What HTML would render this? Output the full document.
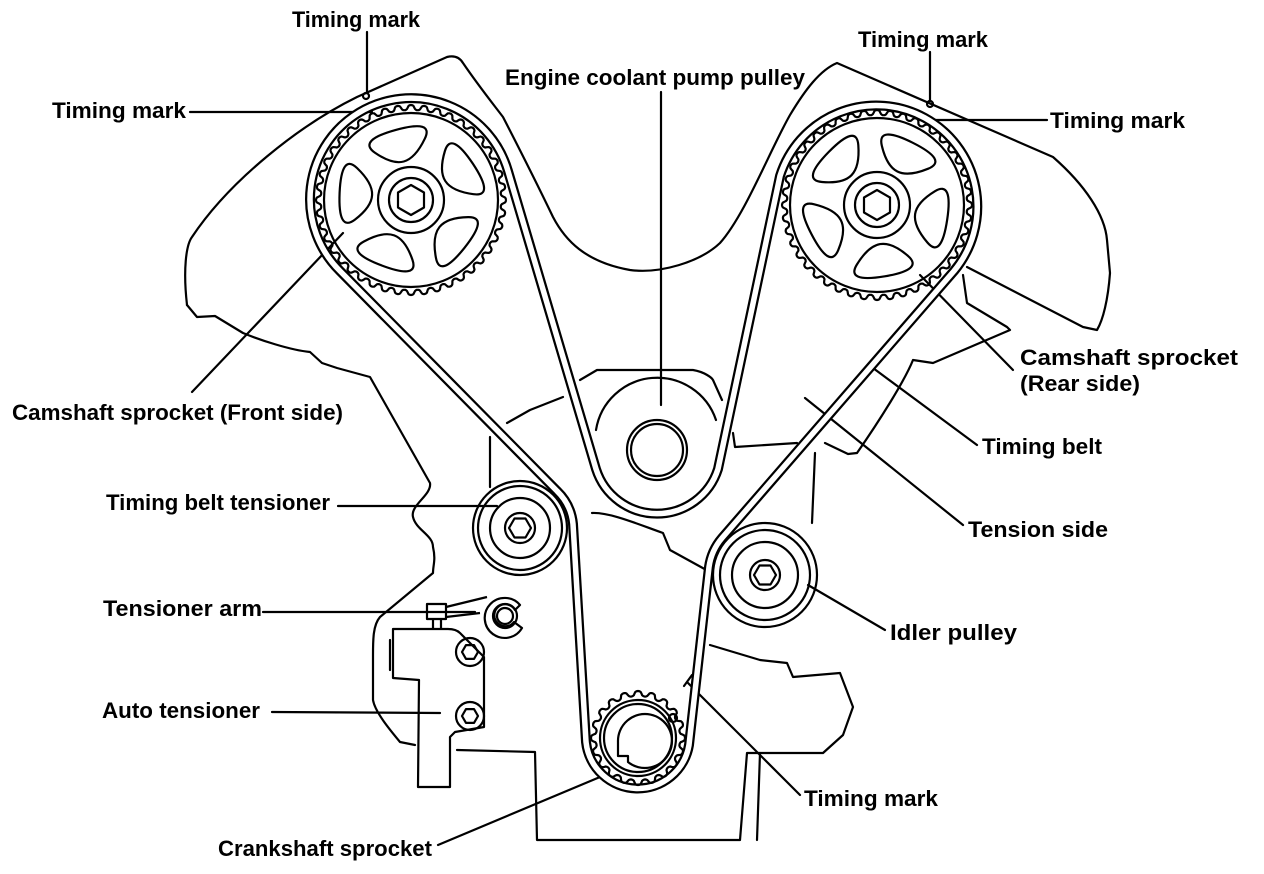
<!DOCTYPE html>
<html><head><meta charset="utf-8"><style>
html,body{margin:0;padding:0;background:#fff;width:1264px;height:874px;overflow:hidden}
svg{display:block}
text{font-family:"Liberation Sans",Arial,sans-serif;font-size:22px;fill:#000;font-weight:bold;letter-spacing:0}
</style></head><body>
<svg id="s" width="1264" height="874" viewBox="0 0 1264 874" xmlns="http://www.w3.org/2000/svg">
<g id="g" fill="none" stroke="#000" stroke-width="2.2" stroke-linejoin="round" stroke-linecap="round">
<path d="M187,305 C183,270 186,245 192,237 C230,180 300,125 357,97 L447,57 C455,55 460,58 463,63 C478,85 490,100 503,117 C520,150 540,190 553,217 C565,240 585,262 630,270 C660,274 700,262 720,243 C745,215 770,150 790,115 C805,90 820,70 837,63 L1053,157 C1085,185 1105,215 1107,240 L1110,273 C1108,300 1103,320 1097,330 L1083,327 L967,267"/>
<path d="M187,305 L197,317 L215,316 L243,333 C260,340 290,350 310,352 L322,363 L337,368 L370,377 L430,483 C432,495 410,505 413,517 C416,530 433,535 433,547 C436,560 433,565 433,573 L380,617 C373,625 373,640 373,655 L373,700 C375,712 390,730 400,742 L415,745"/>
<path d="M963,275 L967,303 L1007,327 L1010,330 L933,363 L913,360 C905,380 880,420 857,453 L848,454 L825,443"/>
<path d="M733,433 L735,447 L797,443"/>
<path d="M815,453 L812,523"/>
<path d="M490,437 L490,487"/>
<path d="M507,423 L530,410 L563,397"/>
<path d="M580,380 L597,370 L693,370 C705,372 712,378 713,380 L722,400"/>
<path d="M592,513 C610,512 640,525 663,533 L670,550 L710,572"/>
<path d="M710,645 L760,660 L787,663 L793,677 L840,673 L853,707 L843,735 L823,753 L747,753 L740,840 L537,840 L535,752 L457,750"/>
<path d="M760,753 L757,840"/>
<path d="M393,629 L448,629 C455,629 458,631 460,633 L484,657 L484,727 L455,732 L450,737 L450,787 L418,787 L419,680 L393,678 Z"/>
<path d="M390,640 L390,670"/>
<path d="M596,430 A62,62 0 0 1 716,420"/>
<path d="M367,32 L367,93"/><circle cx="366" cy="96" r="3"/>
<path d="M190,112 L372,112"/>
<path d="M661,92 L661,405"/>
<path d="M930,52 L930,100"/><circle cx="930" cy="104" r="3"/>
<path d="M923,120 L1047,120"/>
<path d="M920,275 L1013,370"/>
<path d="M873,368 L977,445"/>
<path d="M805,398 L963,525"/>
<path d="M808,585 L885,630"/>
<path d="M688,683 L800,795"/>
<path d="M684,686 L692,675"/>
<path d="M438,845 L600,777"/>
<path d="M272,712 L440,713"/>
<path d="M263,612 L475,612"/>
<path d="M338,506 L497,506"/>
<path d="M192,392 L343,233"/>
</g>
<g id="dyn" fill="none" stroke="#000" stroke-width="2.2" stroke-linejoin="round"></g>
<g>
<text x="292" y="27" textLength="128" lengthAdjust="spacingAndGlyphs">Timing mark</text>
<text x="52" y="118" textLength="134" lengthAdjust="spacingAndGlyphs">Timing mark</text>
<text x="505" y="85" textLength="300" lengthAdjust="spacingAndGlyphs">Engine coolant pump pulley</text>
<text x="858" y="47" textLength="130" lengthAdjust="spacingAndGlyphs">Timing mark</text>
<text x="1050" y="128" textLength="135" lengthAdjust="spacingAndGlyphs">Timing mark</text>
<text x="1020" y="365" textLength="218" lengthAdjust="spacingAndGlyphs">Camshaft  sprocket</text>
<text x="1020" y="391" textLength="120" lengthAdjust="spacingAndGlyphs">(Rear side)</text>
<text x="982" y="454" textLength="120" lengthAdjust="spacingAndGlyphs">Timing belt</text>
<text x="968" y="537" textLength="140" lengthAdjust="spacingAndGlyphs">Tension side</text>
<text x="890" y="640" textLength="127" lengthAdjust="spacingAndGlyphs">Idler pulley</text>
<text x="804" y="806" textLength="134" lengthAdjust="spacingAndGlyphs">Timing mark</text>
<text x="218" y="856" textLength="214" lengthAdjust="spacingAndGlyphs">Crankshaft sprocket</text>
<text x="102" y="718" textLength="158" lengthAdjust="spacingAndGlyphs">Auto tensioner</text>
<text x="103" y="616" textLength="159" lengthAdjust="spacingAndGlyphs">Tensioner arm</text>
<text x="106" y="510" textLength="224" lengthAdjust="spacingAndGlyphs">Timing belt tensioner</text>
<text x="12" y="420" textLength="331" lengthAdjust="spacingAndGlyphs">Camshaft sprocket (Front side)</text>
</g>
</svg>
<script>
(function(){
var NS="http://www.w3.org/2000/svg",d=document.getElementById("dyn");
function el(t,a){var e=document.createElementNS(NS,t);for(var k in a)e.setAttribute(k,a[k]);d.appendChild(e);return e;}
function circ(cx,cy,r,w){el("circle",{cx:cx,cy:cy,r:r,"stroke-width":w||2.2});}
function teeth(cx,cy,r1,r2,n){var s="",N=n*16;for(var i=0;i<=N;i++){var a=i/N*2*Math.PI,p=(i%16)/16;var c=Math.cos(p*2*Math.PI);var r=r1+(r2-r1)*(0.5+0.5*Math.sign(c)*Math.pow(Math.abs(c),0.5));s+=(i?"L":"M")+(cx+r*Math.cos(a)).toFixed(1)+","+(cy+r*Math.sin(a)).toFixed(1);}el("path",{d:s});}
function hex(cx,cy,r,rot){var s="";for(var i=0;i<6;i++){var a=(i*60+(rot||0))*Math.PI/180;s+=(i?"L":"M")+(cx+r*Math.cos(a)).toFixed(1)+","+(cy+r*Math.sin(a)).toFixed(1);}el("path",{d:s+"Z"});}
function hole(cx,cy,ang){var P=[[40,-18],[80,-32],[84,26],[42,16]];var pts=P.map(function(p){var a=(ang+p[1])*Math.PI/180;return [cx+p[0]*Math.cos(a),cy+p[0]*Math.sin(a)];});var s="";for(var i=0;i<4;i++){var A=pts[i],B=pts[(i+1)%4];var m=[(A[0]+B[0])/2,(A[1]+B[1])/2];var pr=pts[(i+3)%4];var m0=[(pr[0]+A[0])/2,(pr[1]+A[1])/2];if(i==0)s+="M"+m0[0].toFixed(1)+","+m0[1].toFixed(1);s+="Q"+A[0].toFixed(1)+","+A[1].toFixed(1)+" "+m[0].toFixed(1)+","+m[1].toFixed(1);}el("path",{d:s+"Z"});}
function cam(cx,cy,off){teeth(cx,cy,90,95,44);circ(cx,cy,87);for(var k=0;k<5;k++)hole(cx,cy,off+k*72);circ(cx,cy,33);circ(cx,cy,22);hex(cx,cy,15,30);}
cam(411,200,-100);cam(877,205,-130);
var B="M508,171 L596,469 A64,64 0 0 0 718,469 L780,176 A101,101 0 1 1 954,271 L722,538 A57,57 0 0 0 709,567 L689,745 A52,52 0 0 1 586,742 L573,524 A53,53 0 0 0 557,491 L340,271 A101,101 0 1 1 508,171 Z";
el("path",{d:B,"stroke-width":10});el("path",{d:B,stroke:"#fff","stroke-width":5.5});
circ(657,450,30);circ(657,450,26);
circ(520,528,47);circ(520,528,42);circ(520,528,30);circ(520,528,15);hex(520,528,11,0);
circ(765,575,52);circ(765,575,45);circ(765,575,33);circ(765,575,15);hex(765,575,11,0);
teeth(638,738,42,47,20);circ(638,738,38);circ(638,738,34);
el("path",{d:"M618,742 A27,27 0 1 1 628,762 L628,756 L618,756 Z"});circ(673,718,4);
el("rect",{x:427,y:604,width:19,height:15});el("path",{d:"M433,619 L433,628 M441,619 L441,628"});
el("path",{d:"M446,607 L487,597 M446,617 L480,613"});
el("path",{d:"M520,605 A20,20 0 1 0 522,628 L514,622 A11,11 0 1 1 515,610 Z"});circ(505,616,12);circ(505,616,8);
circ(470,652,14);hex(470,652,8,0);circ(470,716,14);hex(470,716,8,0);
})();
</script>
</body></html>
